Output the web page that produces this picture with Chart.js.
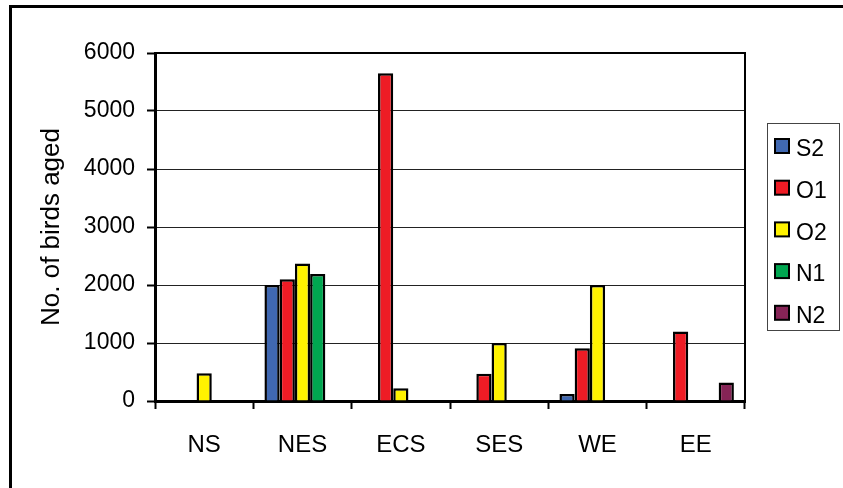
<!DOCTYPE html>
<html>
<head>
<meta charset="utf-8">
<script src="https://cdn.jsdelivr.net/npm/chart.js@4/dist/chart.umd.min.js"></script>
<style>
  html, body { margin: 0; padding: 0; background: #fff; }
  #wrap { width: 843px; height: 488px; position: relative; }
</style>
</head>
<body>
<div id="wrap"><canvas id="c" width="843" height="488"></canvas></div>
<script>
// Sites and bird counts by age class
const categories = ['NS', 'NES', 'ECS', 'SES', 'WE', 'EE'];
const seriesNames = ['S2', 'O1', 'O2', 'N1', 'N2'];
const s2 = [null, 2000, null, null, 120, null];
const o1 = [null, 2100, 5650, 470, 910, 1200];
const o2 = [480, 2370, 220, 1000, 2000, null];
const n1 = [null, 2190, null, null, null, null];
const n2 = [null, null, null, null, null, 320];
const yTicks = [0, 1000, 2000, 3000, 4000, 5000, 6000];

const colors = ['#4068B1', '#EE1C25', '#FFF200', '#00A650', '#862456'];
const values = [s2, o1, o2, n1, n2];

const FONT = '"Liberation Sans", Arial, sans-serif';

// Frame around the whole figure, box around the plot, and the legend
const decorations = {
  id: 'decorations',
  afterDraw(chart) {
    const ctx = chart.ctx;
    const a = chart.chartArea;
    ctx.save();
    // outer frame
    ctx.strokeStyle = '#000';
    ctx.lineWidth = 3;
    ctx.strokeRect(10.5, 6.5, 900, 600);
    // plot box (top and right edges)
    ctx.lineWidth = 2;
    ctx.beginPath();
    ctx.moveTo(a.left, a.top);
    ctx.lineTo(a.right, a.top);
    ctx.lineTo(a.right, a.bottom);
    ctx.stroke();
    // legend
    ctx.lineWidth = 1;
    ctx.strokeStyle = '#444';
    ctx.strokeRect(767.5, 123.5, 72, 207);
    ctx.font = '23px ' + FONT;
    ctx.textBaseline = 'middle';
    ctx.textAlign = 'left';
    chart.data.datasets.forEach((ds, i) => {
      const cy = 146 + i * 41.7;
      ctx.fillStyle = ds.backgroundColor;
      ctx.fillRect(775, cy - 7, 14, 14);
      ctx.lineWidth = 2;
      ctx.strokeStyle = '#000';
      ctx.strokeRect(775, cy - 7, 14, 14);
      ctx.fillStyle = '#000';
      ctx.fillText(ds.label, 796, cy + 4);
    });
    ctx.restore();
  }
};

new Chart(document.getElementById('c'), {
  type: 'bar',
  data: {
    labels: categories,
    datasets: seriesNames.map((name, i) => ({
      label: name,
      data: values[i],
      backgroundColor: colors[i],
      borderColor: '#000',
      borderWidth: 2.5,
      borderSkipped: 'bottom',
      categoryPercentage: 0.774,
      barPercentage: 1
    }))
  },
  options: {
    responsive: false,
    animation: false,
    devicePixelRatio: 1,
    layout: { padding: { left: 0, top: 53, right: 98, bottom: 0 } },
    plugins: { legend: { display: false }, tooltip: { enabled: false } },
    scales: {
      x: {
        offset: true,
        grid: {
          offset: true,
          drawOnChartArea: false,
          drawTicks: true,
          tickLength: 8,
          tickColor: '#000',
          tickWidth: 2
        },
        border: { color: '#000', width: 3 },
        ticks: {
          color: '#000',
          font: { family: FONT, size: 24 },
          padding: 22,
          maxRotation: 0
        },
        afterFit(scale) { scale.height = 87; }
      },
      y: {
        min: 0,
        max: 6000,
        afterBuildTicks(scale) { scale.ticks = yTicks.map(v => ({ value: v })); },
        grid: {
          color: '#222',
          lineWidth: 1,
          drawTicks: true,
          tickLength: 8,
          tickColor: '#000',
          tickWidth: 2
        },
        border: { color: '#000', width: 3 },
        ticks: {
          color: '#000',
          font: { family: FONT, size: 23 },
          padding: 12,
          callback: v => String(v)
        },
        title: {
          display: true,
          text: 'No. of birds aged',
          color: '#000',
          font: { family: FONT, size: 26 },
          padding: { top: 36, bottom: 0 }
        },
        afterFit(scale) { scale.width = 155; }
      }
    }
  },
  plugins: [decorations]
});
</script>
</body>
</html>
